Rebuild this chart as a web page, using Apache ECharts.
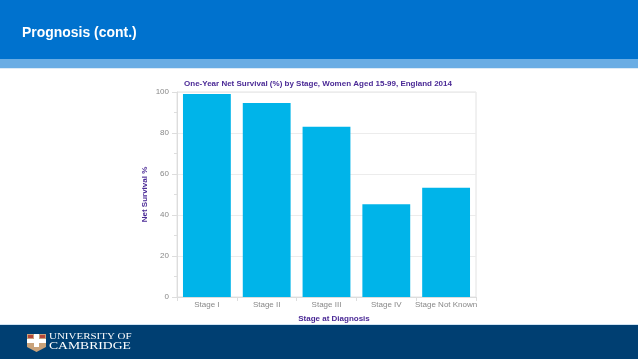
<!DOCTYPE html>
<html>
<head>
<meta charset="utf-8">
<script src="https://cdn.jsdelivr.net/npm/echarts@6/dist/echarts.min.js"></script>
<style>html,body{margin:0;padding:0;background:#fff}#c{width:638px;height:359px}</style>
</head>
<body>
<div id="c"></div>
<script>
var categories = ['Stage I', 'Stage II', 'Stage III', 'Stage IV', 'Stage Not Known'];
var survival = [99.0, 94.6, 83.1, 45.2, 53.3];
var yTicks = [0, 20, 40, 60, 80, 100];

var chart = echarts.init(document.getElementById('c'), null, {renderer: 'canvas'});
var purple = '#4B2A96';
chart.setOption({
  animation: false,
  backgroundColor: '#ffffff',
  title: {
    text: 'One-Year Net Survival (%) by Stage, Women Aged 15-99, England 2014',
    left: 313, top: 75, textAlign: 'center',
    textStyle: {color: purple, fontSize: 8, fontWeight: 'bold', fontFamily: 'Liberation Sans, Arial, sans-serif'}
  },
  grid: {left: 177, right: 162, top: 92, bottom: 62, show: true, borderColor: '#e2e2e2', borderWidth: 1},
  xAxis: {
    type: 'category', data: categories,
    name: 'Stage at Diagnosis', nameLocation: 'middle', nameGap: 18,
    nameTextStyle: {color: purple, fontSize: 8, fontWeight: 'bold', fontFamily: 'Liberation Sans, Arial, sans-serif', padding: [0, 0, 0, 15]},
    axisLine: {lineStyle: {color: '#dddddd'}},
    axisTick: {show: true, length: 4, lineStyle: {color: '#dddddd'}},
    axisLabel: {color: '#888888', fontSize: 8, margin: 4, fontFamily: 'Liberation Sans, Arial, sans-serif', interval: 0}
  },
  yAxis: {
    type: 'value', min: yTicks[0], max: yTicks[yTicks.length - 1], interval: 20,
    name: 'Net Survival %', nameLocation: 'middle', nameGap: 28,
    nameTextStyle: {color: purple, fontSize: 8, fontWeight: 'bold', fontFamily: 'Liberation Sans, Arial, sans-serif'},
    axisLine: {show: true, lineStyle: {color: '#dddddd'}},
    axisTick: {show: true, length: 5, lineStyle: {color: '#dddddd'}},
    minorTick: {show: true, splitNumber: 2, length: 3, lineStyle: {color: '#dddddd'}},
    splitLine: {show: true, lineStyle: {color: '#ececec'}},
    axisLabel: {color: '#888888', fontSize: 8, margin: 8, fontFamily: 'Liberation Sans, Arial, sans-serif'}
  },
  series: [{
    type: 'bar', data: survival, barCategoryGap: '20%',
    itemStyle: {color: '#00B4E9'}
  }],
  graphic: [
    {type: 'rect', shape: {x: 0, y: 0, width: 638, height: 59}, style: {fill: '#0072CE'}, z: 0},
    {type: 'rect', shape: {x: 0, y: 59, width: 638, height: 9}, style: {fill: '#6AADE4'}, z: 0},
    {type: 'rect', shape: {x: 0, y: 68, width: 638, height: 1}, style: {fill: '#dcebf7'}, z: 0},
    {type: 'text', x: 22, y: 25, style: {text: 'Prognosis (cont.)', fill: '#ffffff', font: 'bold 15px "Liberation Sans", Arial, sans-serif'}, scaleX: 0.93},
    {type: 'rect', shape: {x: 0, y: 324, width: 638, height: 1}, style: {fill: '#cfe3f3'}, z: 0},
    {type: 'rect', shape: {x: 0, y: 325, width: 638, height: 34}, style: {fill: '#003F72'}, z: 0},
    {type: 'rect', shape: {x: 27, y: 334, width: 19, height: 13}, style: {fill: '#C9A27A'}, z: 1},
    {type: 'rect', shape: {x: 34, y: 334, width: 5, height: 13}, style: {fill: '#ffffff'}, z: 2},
    {type: 'rect', shape: {x: 27, y: 339, width: 19, height: 4}, style: {fill: '#ffffff'}, z: 2},
    {type: 'polygon', shape: {points: [[27, 347], [46, 347], [36.5, 352]]}, style: {fill: '#C9A27A'}, z: 1},
    {type: 'rect', shape: {x: 28, y: 335, width: 5, height: 3}, style: {fill: '#B5473A'}, z: 3},
    {type: 'rect', shape: {x: 40, y: 335, width: 5, height: 3}, style: {fill: '#B5473A'}, z: 3},
    {type: 'text', x: 49, y: 332, scaleX: 1.22, style: {text: 'UNIVERSITY OF', fill: '#ffffff', font: '9px "Liberation Serif", "Times New Roman", serif'}},
    {type: 'text', x: 49, y: 341, scaleX: 1.3, style: {text: 'CAMBRIDGE', fill: '#ffffff', font: '10.5px "Liberation Serif", "Times New Roman", serif'}}
  ]
});
</script>
</body>
</html>
